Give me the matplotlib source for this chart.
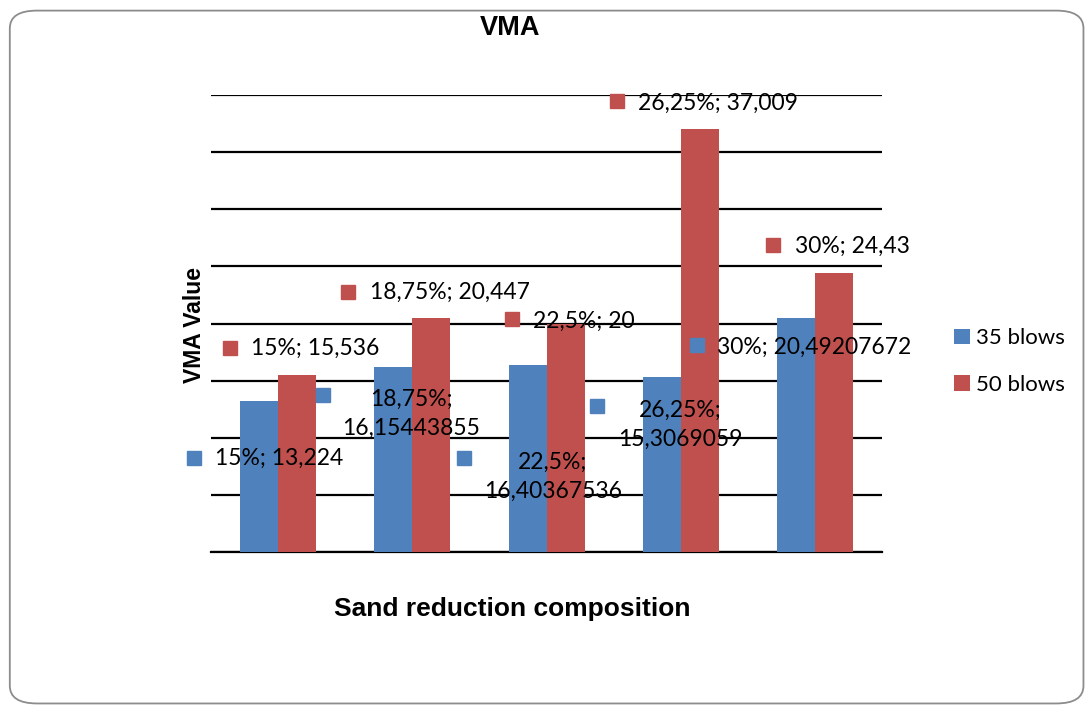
import matplotlib.pyplot as plt
import numpy as np
from matplotlib.patches import FancyBboxPatch

# data
composisi = ["15%", "18,75%", "22,5%", "26,25%", "30%"]
blows_35 = [13.224, 16.15443855, 16.40367536, 15.3069059, 20.49207672]
blows_50 = [15.536, 20.447, 20, 37.009, 24.43]
label_35 = ["15%; 13,224", "18,75%;\n16,15443855", "22,5%;\n16,40367536",
            "26,25%;\n15,3069059", "30%; 20,49207672"]
label_50 = ["15%; 15,536", "18,75%; 20,447", "22,5%; 20",
            "26,25%; 37,009", "30%; 24,43"]

BIRU = "#4F81BD"
MERAH = "#C0504D"

# posisi label (kotak, teks, rata) dalam koordinat data
pos_35 = [((-0.627, 8.23), (-0.470, 8.23), "left"),
          ((0.335, 13.74), (0.990, 12.10), "center"),
          ((1.385, 8.23), (2.048, 6.60), "center"),
          ((2.376, 12.78), (2.995, 11.15), "center"),
          ((3.121, 18.12), (3.270, 17.94), "left")]
pos_50 = [((-0.358, 17.86), (-0.202, 17.86), "left"),
          ((0.521, 22.76), (0.685, 22.76), "left"),
          ((1.743, 20.39), (1.899, 20.22), "left"),
          ((2.525, 39.47), (2.682, 39.30), "left"),
          ((3.688, 26.87), (3.852, 26.78), "left")]

fig = plt.figure(figsize=(10.9, 7.07), dpi=100)
ax = fig.add_axes([0.1936, 0.2192, 0.6156, 0.6464])

x = np.arange(len(composisi))
w = 0.283
ax.bar(x - w / 2, blows_35, w, color=BIRU, label="35 blows", zorder=3)
ax.bar(x + w / 2, blows_50, w, color=MERAH, label="50 blows", zorder=3)

ax.set_xlim(-0.5, len(composisi) - 0.5)
ax.set_ylim(0, 40)
ax.set_yticks(np.arange(0, 41, 5))
ax.yaxis.grid(True, color="black", linewidth=1.6, zorder=0)
ax.tick_params(left=False, bottom=False, labelleft=False, labelbottom=False)
for s in ["top", "right", "left"]:
    ax.spines[s].set_visible(False)
ax.spines["bottom"].set_linewidth(1.6)

def tulis_label(labels, posisi, warna):
    for teks, (sq, tp, ha) in zip(labels, posisi):
        ax.plot(*sq, marker="s", markersize=10, color=warna, clip_on=False, zorder=5)
        ax.text(tp[0], tp[1], teks, ha=ha, va="center", fontsize=16.5,
                family="Lato", linespacing=1.45, zorder=6)

tulis_label(label_35, pos_35, BIRU)
tulis_label(label_50, pos_50, MERAH)

fig.text(0.468, 0.960, "VMA", ha="center", va="center", fontsize=19.5,
         fontweight="bold", family="Liberation Sans")
fig.text(0.470, 0.139, "Sand reduction composition", ha="center", va="center",
         fontsize=19, fontweight="bold", family="Liberation Sans")
fig.text(0.178, 0.540, "VMA Value", ha="center", va="center", rotation=90,
         fontsize=16.5, fontweight="bold", family="Liberation Sans")

fig.legend(loc="upper left", bbox_to_anchor=(0.857, 0.564), frameon=False,
           prop={"family": "Lato", "size": 16}, handlelength=0.7,
           handleheight=0.7, handletextpad=0.3, labelspacing=1.2)

# bingkai luar bulat
bingkai = FancyBboxPatch((0.009, 0.005), 0.985, 0.98,
                         boxstyle="round,pad=0,rounding_size=0.025",
                         transform=fig.transFigure, facecolor="none",
                         edgecolor="#8c8c8c", linewidth=1.3)
fig.patches.append(bingkai)

fig.savefig("out.png", dpi=100)
